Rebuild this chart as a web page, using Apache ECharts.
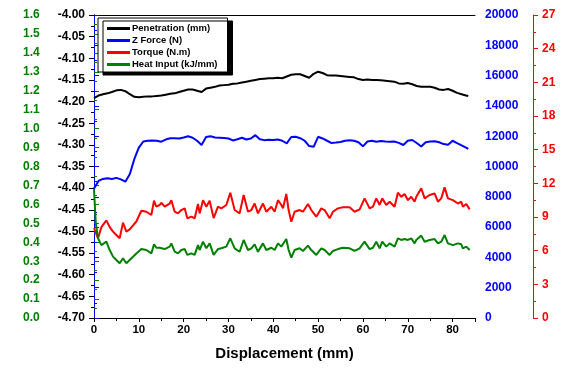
<!DOCTYPE html>
<html><head><meta charset="utf-8">
<script src="https://cdn.jsdelivr.net/npm/echarts@6/dist/echarts.min.js"></script>
<style>html,body{margin:0;padding:0;background:#fff}#c{width:570px;height:368px}</style>
</head><body><div id="c"></div>
<script>
// Displacement (mm) for penetration and Z force
const smoothX = [0,1,2,3,4,5,6,7,8,9,10,11,12,13,14,15,16,17,18,19,20,21,22,23,24,25,26,27,28,29,
  30,31,32,33,34,35,36,37,38,39,40,41,42,43,44,45,46,47,48,49,50,51,52,53,54,55,56,57,58,59,
  60,61,62,63,64,65,66,67,68,69,70,71,72,73,74,75,76,77,78,79,80,81,82,83,83.5];
const penetration = [-4.192,-4.186,-4.183,-4.181,-4.178,-4.174,-4.173,-4.176,-4.183,-4.189,
  -4.190,-4.189,-4.188,-4.188,-4.187,-4.186,-4.184,-4.182,-4.181,-4.178,
  -4.175,-4.172,-4.172,-4.175,-4.178,-4.170,-4.168,-4.166,-4.163,-4.162,
  -4.161,-4.159,-4.158,-4.156,-4.154,-4.152,-4.150,-4.148,-4.147,-4.146,
  -4.146,-4.145,-4.146,-4.142,-4.138,-4.137,-4.137,-4.141,-4.145,-4.136,
  -4.131,-4.134,-4.139,-4.140,-4.140,-4.141,-4.142,-4.143,-4.144,-4.148,
  -4.150,-4.149,-4.150,-4.150,-4.151,-4.152,-4.153,-4.154,-4.158,-4.159,
  -4.157,-4.160,-4.164,-4.166,-4.166,-4.166,-4.168,-4.172,-4.173,-4.171,
  -4.175,-4.180,-4.183,-4.186,-4.187];
const zForce = [8550,9050,9180,9220,9180,9250,9150,9000,9500,10500,
  11250,11650,11700,11710,11700,11640,11780,11860,11870,11850,
  11920,12000,11900,11700,11420,11950,12000,11920,11900,11880,
  11850,11720,11800,11900,11780,11850,12070,11800,11740,11760,
  11750,11780,11700,11530,11950,11960,11870,11700,11350,11300,
  11960,11850,11700,11550,11580,11620,11700,11740,11700,11600,
  11330,11650,11700,11640,11680,11650,11640,11650,11560,11420,
  11700,11750,11550,11320,11600,11650,11660,11600,11480,11430,
  11700,11550,11400,11250,11160];
// Displacement (mm) for torque and heat input
const noisyX = [0,0.4,0.9,1.65,2.76,3.5,4.24,4.99,5.73,6.47,
  7.22,7.96,9.45,10.56,11.68,12.79,13.39,13.91,14.65,15.02,
  15.77,16.88,17.25,18.0,18.74,19.48,20.23,20.82,21.71,22.46,
  23.2,23.57,24.32,25.06,25.8,26.69,27.66,28.4,29.52,30.41,
  31.38,32.49,33.39,34.35,35.1,35.84,36.58,37.7,38.44,39.56,
  40.3,41.05,41.79,42.16,42.9,43.42,44.02,44.76,45.87,46.62,
  47.73,48.48,49.59,50.71,51.45,52.57,53.31,54.42,55.54,57.03,
  58.14,59.26,60.37,61.49,62.23,62.98,63.72,64.31,65.2,65.95,
  67.06,67.8,68.55,69.29,70.04,70.78,71.52,71.9,73.01,73.76,
  74.87,75.98,76.73,77.47,78.22,78.96,80.07,81.19,81.93,82.3,
  83.05,83.81];
const torque = [8.0,7.6,7.1,8.1,8.7,8.1,7.7,7.4,7.1,8.5,
  7.7,7.9,8.6,9.56,9.47,9.18,10.45,9.92,10.07,10.27,
  9.92,10.2,10.5,9.47,9.32,9.62,9.77,8.88,9.03,8.88,
  10.16,9.32,10.5,9.92,10.45,8.9,9.92,9.77,10.07,11.16,
  9.62,9.32,10.96,9.47,9.62,10.2,9.32,10.2,9.47,9.92,
  9.47,10.5,10.07,9.77,11.05,9.62,8.58,9.47,9.62,9.47,
  10.16,9.62,9.03,9.77,9.62,8.88,9.47,9.77,9.86,9.86,
  9.47,9.68,10.66,9.77,9.92,10.66,10.07,10.66,10.07,10.36,
  9.92,11.16,10.8,11.05,10.5,10.8,10.36,10.8,11.55,10.66,
  10.96,11.1,10.36,10.66,11.64,10.66,10.5,10.2,10.36,9.92,
  10.16,9.68];
const heatInput = [0.68,0.50,0.421,0.385,0.403,0.359,0.324,0.306,0.289,0.315,
  0.289,0.306,0.341,0.364,0.359,0.341,0.389,0.371,0.371,0.377,
  0.364,0.377,0.394,0.35,0.341,0.359,0.364,0.333,0.341,0.333,
  0.385,0.359,0.403,0.368,0.394,0.333,0.364,0.368,0.377,0.421,
  0.368,0.35,0.412,0.359,0.368,0.389,0.35,0.394,0.359,0.371,
  0.359,0.394,0.377,0.368,0.417,0.359,0.319,0.359,0.368,0.354,
  0.382,0.359,0.333,0.368,0.359,0.333,0.354,0.364,0.371,0.368,
  0.354,0.368,0.403,0.364,0.371,0.403,0.368,0.403,0.377,0.394,
  0.377,0.421,0.412,0.417,0.412,0.421,0.394,0.412,0.435,0.403,
  0.412,0.417,0.394,0.403,0.438,0.394,0.385,0.394,0.389,0.368,
  0.377,0.359];

const seriesNames = ['Penetration (mm)','Z Force (N)','Torque (N.m)','Heat Input (kJ/mm)'];
const xTitle = 'Displacement (mm)';

const FONT = '"Liberation Sans", Arial, sans-serif';
const C_BLACK = '#000000', C_BLUE = '#0000ff', C_RED = '#ff0000', C_GREEN = '#008000';

function pairs(xs, ys){ return xs.map((x,i)=>[x, ys[i]]); }

function yAxis(color, opts){
  return Object.assign({
    type:'value', splitLine:{show:false},
    axisLine:{show:true, lineStyle:{color:color, width:1}},
    axisTick:{show:true, length:5, lineStyle:{color:color}},
    minorTick:{show:true, splitNumber:2, length:3, lineStyle:{color:color}},
    axisLabel:{color:color, fontFamily:FONT, fontWeight:'bold', fontSize:12},
  }, opts);
}

const chart = echarts.init(document.getElementById('c'), null, {renderer:'canvas'});
chart.setOption({
  animation:false,
  backgroundColor:'#ffffff',
  grid:{left:94, right:95, top:15, bottom:50, containLabel:false},
  legend:{
    data:seriesNames, orient:'vertical', left:98, top:18,
    padding:[5,10,2,9], itemGap:1, itemWidth:23, itemHeight:3, icon:'rect',
    backgroundColor:'#ffffff', borderColor:'#000', borderWidth:1,
    shadowColor:'#000', shadowBlur:0, shadowOffsetX:5, shadowOffsetY:3,
    textStyle:{fontFamily:FONT, fontWeight:'bold', fontSize:9.5, lineHeight:11, color:'#000', padding:[0,0,0,-3]}
  },
  xAxis:[{
    type:'value', min:0, max:85, interval:10,
    name:xTitle, nameLocation:'middle', nameGap:28,
    nameTextStyle:{fontFamily:FONT, fontWeight:'bold', fontSize:15, color:'#000'},
    splitLine:{show:false},
    axisLine:{show:true, onZero:false, lineStyle:{color:'#000'}},
    axisTick:{show:true, length:4, lineStyle:{color:'#000'}},
    minorTick:{show:true, splitNumber:2, length:3, lineStyle:{color:'#000'}},
    axisLabel:{fontFamily:FONT, fontWeight:'bold', fontSize:11.5, color:'#000', margin:6,
      formatter:v=> (v%10===0 && v<=80) ? String(v) : ''}
  },{
    type:'value', position:'top', min:0, max:85,
    axisLine:{show:true, onZero:false, lineStyle:{color:'#000'}},
    axisTick:{show:false}, axisLabel:{show:false}, splitLine:{show:false}
  }],
  yAxis:[
    yAxis('#000', {position:'left', min:-4.70, max:-4.00, interval:0.05,
      axisLine:{show:true, onZero:false, lineStyle:{color:'#333'}},
      axisLabel:{color:'#000', fontFamily:FONT, fontWeight:'bold', fontSize:12, margin:9,
        formatter:v=>Number(v).toFixed(2)}}),
    yAxis(C_GREEN, {position:'left', offset:79, min:0, max:1.6, interval:0.1,
      axisTick:{show:true, inside:true, length:5, lineStyle:{color:C_GREEN}},
      minorTick:{show:true, splitNumber:2, length:3, lineStyle:{color:C_GREEN}},
      axisLabel:{color:C_GREEN, inside:true, fontFamily:FONT, fontWeight:'bold', fontSize:12, margin:8,
        formatter:v=>Number(v).toFixed(1)}}),
    yAxis(C_BLUE, {position:'right', min:0, max:20000, interval:2000,
      axisLabel:{color:C_BLUE, fontFamily:FONT, fontWeight:'bold', fontSize:12, margin:10,
        formatter:v=>String(Math.round(v))}}),
    yAxis(C_RED, {position:'right', offset:58, min:0, max:27, interval:3,
      axisLabel:{color:C_RED, fontFamily:FONT, fontWeight:'bold', fontSize:12, margin:9,
        formatter:v=>String(Math.round(v))}})
  ],
  series:[
    {name:seriesNames[0], type:'line', xAxisIndex:0, yAxisIndex:0, data:pairs(smoothX, penetration),
      showSymbol:false, symbol:'none', lineStyle:{color:C_BLACK, width:2}, itemStyle:{color:C_BLACK}},
    {name:seriesNames[1], type:'line', xAxisIndex:0, yAxisIndex:2, data:pairs(smoothX, zForce),
      showSymbol:false, symbol:'none', lineStyle:{color:C_BLUE, width:2}, itemStyle:{color:C_BLUE}},
    {name:seriesNames[2], type:'line', xAxisIndex:0, yAxisIndex:3, data:pairs(noisyX, torque),
      showSymbol:false, symbol:'none', lineStyle:{color:C_RED, width:2}, itemStyle:{color:C_RED}},
    {name:seriesNames[3], type:'line', xAxisIndex:0, yAxisIndex:1, data:pairs(noisyX, heatInput),
      showSymbol:false, symbol:'none', lineStyle:{color:C_GREEN, width:2}, itemStyle:{color:C_GREEN}}
  ]
});
</script></body></html>
